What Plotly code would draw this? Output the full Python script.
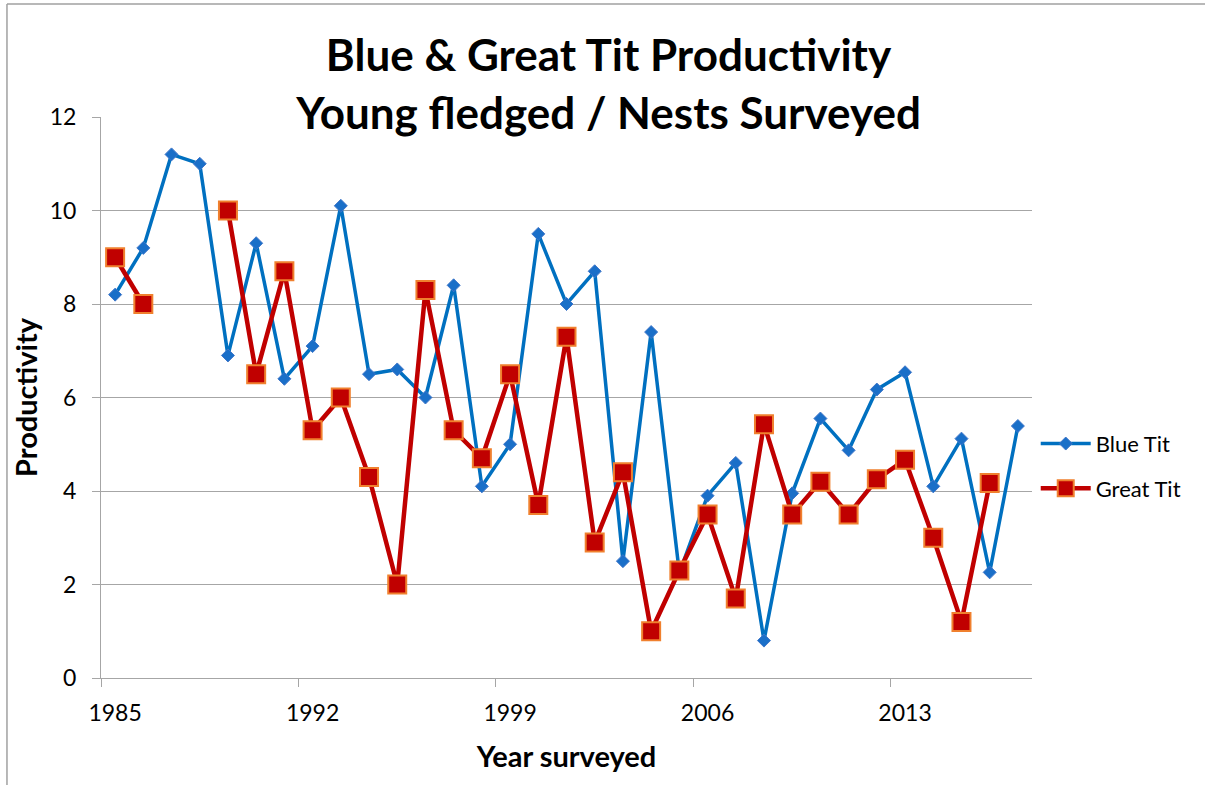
import plotly.graph_objects as go

# ── Data ──────────────────────────────────────────────────────────────────────
years = ["1985", "1986", "1987", "1988", "1989", "1990", "1991", "1992",
         "1993", "1994", "1995", "1996", "1997", "1998", "1999", "2000",
         "2001", "2002", "2003", "2004", "2005", "2006", "2007", "2008",
         "2009", "2010", "2011", "2012", "2013", "2014", "2015", "2016",
         "2017"]

blue_tit = [8.2, 9.2, 11.2, 11.0, 6.9, 9.3, 6.4, 7.1,
            10.1, 6.5, 6.6, 6.0, 8.4, 4.1, 5.0, 9.5,
            8.0, 8.7, 2.5, 7.4, 2.25, 3.9, 4.6, 0.8,
            3.95, 5.55, 4.87, 6.17, 6.54, 4.1, 5.12, 2.26,
            5.39]

great_tit = [9.0, 8.0, None, None, 10.0, 6.5, 8.7, 5.3,
             6.0, 4.3, 2.0, 8.3, 5.3, 4.7, 6.5, 3.7,
             7.3, 2.9, 4.4, 1.0, 2.3, 3.5, 1.7, 5.43,
             3.5, 4.2, 3.5, 4.25, 4.67, 3.0, 1.2, 4.17,
             None]

y_ticks = [0, 2, 4, 6, 8, 10, 12]

FONT = "Lato, 'Open Sans', sans-serif"
GRID = "#a6a6a6"

fig = go.Figure()

fig.add_trace(go.Scatter(
    x=years, y=blue_tit,
    name="Blue Tit",
    mode="lines+markers",
    line=dict(color="#0070c0", width=3.5),
    marker=dict(symbol="diamond", size=10, color="#1a6fc8",
                line=dict(color="#3f76c9", width=1)),
    legendgroup="blue",
))

fig.add_trace(go.Scatter(
    x=years, y=great_tit,
    name="Great Tit",
    mode="lines+markers",
    line=dict(color="#c00000", width=4.5),
    marker=dict(symbol="square", size=18, color="#c00000",
                line=dict(color="#f0802e", width=2)),
    legendgroup="great",
))

# chart-area border (top and left edges only are visible in the original)
fig.add_shape(type="line", xref="paper", yref="paper",
              x0=-0.101, x1=1.19, y0=1.2014, y1=1.2014,
              line=dict(color="#a0a0a0", width=1.5))
fig.add_shape(type="line", xref="paper", yref="paper",
              x0=-0.101, x1=-0.101, y0=1.2014, y1=-0.2,
              line=dict(color="#a0a0a0", width=1.5))

fig.update_layout(
    width=1205, height=785,
    title=dict(
        text="Blue & Great Tit Productivity<br>Young fledged / Nests Surveyed",
        x=0.505, xanchor="center",
        y=0.909, yanchor="top",
        font=dict(family=FONT, size=44, color="black", weight="bold"),
    ),
    xaxis=dict(
        type="category",
        range=[-0.5, 32.5],
        tickmode="linear", tick0=0, dtick=7,
        tickson="boundaries",
        tickangle=0,
        ticks="outside", ticklen=8, tickcolor=GRID, tickwidth=1,
        showline=True, linecolor=GRID, linewidth=1,
        showgrid=False,
        ticklabelstandoff=14,
        tickfont=dict(family=FONT, size=23, color="black"),
        title=dict(text="Year surveyed", standoff=22,
                   font=dict(family=FONT, size=29, color="black",
                             weight="bold")),
    ),
    yaxis=dict(
        range=[0, 12],
        tickvals=y_ticks,
        ticks="outside", ticklen=8, tickcolor=GRID, tickwidth=1,
        showline=True, linecolor=GRID, linewidth=1,
        showgrid=True, gridcolor=GRID, gridwidth=1,
        zeroline=False,
        ticklabelstandoff=11,
        tickfont=dict(family=FONT, size=23, color="black"),
        title=dict(text="Productivity", standoff=3,
                   font=dict(family=FONT, size=29, color="black",
                             weight="bold")),
    ),
    legend=dict(
        x=1.004, xanchor="left",
        y=0.455, yanchor="top",
        traceorder="grouped", tracegroupgap=13,
        itemwidth=50,
        font=dict(family=FONT, size=22, color="black"),
        bgcolor="rgba(0,0,0,0)",
    ),
    plot_bgcolor="white",
    paper_bgcolor="white",
    margin=dict(l=101, r=173, t=117, b=107),
)

fig.write_html("out.html", config={"displayModeBar": False},
               post_script="document.body.style.margin='0';")
